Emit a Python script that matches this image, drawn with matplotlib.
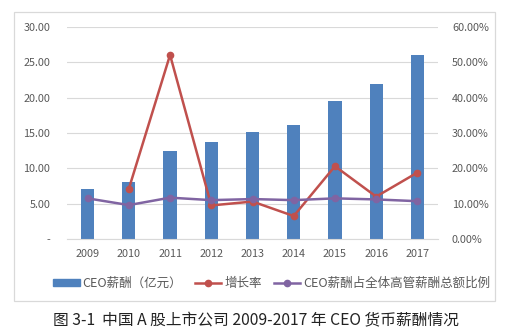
import matplotlib
matplotlib.use("Agg")
import matplotlib.pyplot as plt
from matplotlib.patches import Rectangle
from matplotlib.lines import Line2D
from matplotlib.ticker import FuncFormatter

plt.rcParams['font.family'] = ['Noto Sans CJK SC', 'DejaVu Sans']

years = ["2009", "2010", "2011", "2012", "2013", "2014", "2015", "2016", "2017"]
ceo_pay = [7.1, 8.1, 12.4, 13.7, 15.15, 16.2, 19.5, 21.9, 26.1]
growth = [None, 14.2, 52.1, 9.5, 10.6, 6.5, 20.6, 12.0, 18.8]
share = [11.5, 9.6, 11.7, 11.0, 11.3, 11.0, 11.5, 11.2, 10.7]
labels = ["CEO薪酬（亿元）", "增长率", "CEO薪酬占全体高管薪酬总额比例"]
caption = "图 3-1  中国 A 股上市公司 2009-2017 年 CEO 货币薪酬情况"

blue = "#4F81BD"
red = "#C0504D"
purple = "#8064A2"
tick_color = "#595959"
grid_color = "#D9D9D9"

W, H = 513, 336
fig = plt.figure(figsize=(W / 100, H / 100), dpi=100)

# chart frame
fig.patches.append(Rectangle((14 / W, 1 - 301 / H), (495 - 14) / W, (301 - 12) / H,
                             transform=fig.transFigure, fill=False,
                             edgecolor="#D9D9D9", linewidth=0.9))

ax = fig.add_axes([67 / W, 1 - 239 / H, (438 - 67) / W, (239 - 27) / H])
x = list(range(len(years)))
ax.bar(x, ceo_pay, width=0.32, color=blue, zorder=2)
ax.set_xlim(-0.5, len(years) - 0.5)
ax.set_ylim(0, 30)
ax.set_yticks([0, 5, 10, 15, 20, 25, 30])
ax.yaxis.set_major_formatter(FuncFormatter(lambda v, p: "-" if v == 0 else f"{v:.2f}"))
ax.set_xticks(x)
ax.set_xticklabels(years)
ax.grid(axis="y", color=grid_color, linewidth=0.8, zorder=0)
ax.set_axisbelow(True)
for s in ax.spines.values():
    s.set_visible(False)
ax.spines["bottom"].set_visible(True)
ax.spines["bottom"].set_color(grid_color)
ax.tick_params(length=0, labelsize=7.8, colors=tick_color)
ax.tick_params(axis="y", pad=12)
ax.tick_params(axis="x", pad=7)

ax2 = ax.twinx()
ax2.set_ylim(0, 60)
ax2.set_yticks([0, 10, 20, 30, 40, 50, 60])
ax2.yaxis.set_major_formatter(FuncFormatter(lambda v, p: f"{v:.2f}%"))
for s in ax2.spines.values():
    s.set_visible(False)
ax2.tick_params(length=0, labelsize=7.8, colors=tick_color, pad=10)

gx = [i for i, g in zip(x, growth) if g is not None]
gy = [g for g in growth if g is not None]
ax2.plot(gx, gy, color=red, linewidth=1.8, marker="o", markersize=4.5, zorder=3)
ax2.plot(x, share, color=purple, linewidth=1.8, marker="o", markersize=4.5, zorder=3)

handles = [
    Rectangle((0, 0), 1, 1, color=blue),
    Line2D([], [], color=red, linewidth=1.8, marker="o", markersize=4.5),
    Line2D([], [], color=purple, linewidth=1.8, marker="o", markersize=4.5),
]
leg = fig.legend(handles, labels, loc="center", bbox_to_anchor=(272 / W, 1 - 283 / H),
                 ncol=3, frameon=False, fontsize=9, handlelength=2.1,
                 columnspacing=1.0, handletextpad=0.25, handleheight=0.5)
for t in leg.get_texts():
    t.set_color(tick_color)

fig.text(256 / W, 1 - 321 / H, caption, ha="center", va="center", fontsize=11.3, color="#222222")

fig.savefig("out.png", dpi=100)
